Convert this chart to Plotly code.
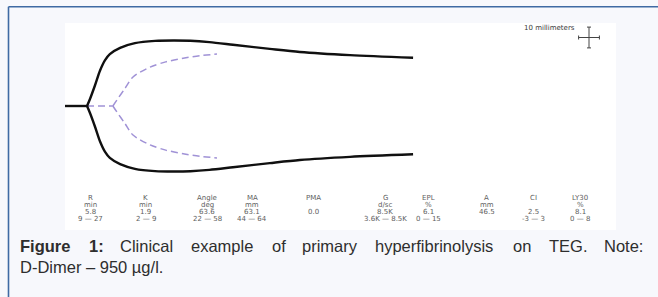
import plotly.graph_objects as go

W, H = 658, 297

# Patient trace (black): time in minutes vs amplitude in mm
t_pat = [0, 5.8, 6.6, 7.9, 9.2, 10.5, 11.8, 14.5, 18.4, 23.7, 28.5, 33.0, 38.0, 44.2, 53.9, 61.8, 75.0, 91.6]
amp_pat = [0, 0, 7, 20, 34, 44, 50, 56, 60.5, 62.7, 63.1, 62.8, 61.5, 59, 55, 52, 49, 46.5]

# Normal reference trace (purple dashed)
t_norm = [0, 12.6, 13.7, 15.8, 17.9, 22.4, 26.5, 31.1, 35.5, 40.0]
amp_norm = [0, 0, 6, 17, 28, 37.5, 42.5, 46, 48.5, 50]
R_NORM = 12.6  # split time of normal trace
R_PAT = 5.8    # split time of patient trace

params = ["R", "K", "Angle", "MA", "PMA", "G", "EPL", "A", "CI", "LY30"]
units = ["min", "min", "deg", "mm", "", "d/sc", "%", "mm", "", "%"]
values = ["5.8", "1.9", "63.6", "63.1", "0.0", "8.5K", "6.1", "46.5", "2.5", "8.1"]
ranges = ["9 \u2014 27", "2 \u2014 9", "22 \u2014 58", "44 \u2014 64", "", "3.6K \u2014 8.5K",
          "0 \u2014 15", "", "-3 \u2014 3", "0 \u2014 8"]

caption1 = ["<b>Figure</b>", "<b>1:</b>", "Clinical", "example", "of", "primary",
            "hyperfibrinolysis", "on", "TEG.", "Note:"]
caption2 = "D-Dimer \u2013 950 \u00b5g/l."

# ---- layout helpers (pixel -> paper) ----
def px(x):
    return x / W

def py(y):
    return 1 - y / H

X0, PXMIN = 65, 3.8      # start of trace in px, px per minute
Y0, PXMM = 106, 2.076    # centre line in px, px per mm

fig = go.Figure()

def split(ts, amps, r):
    base_t = [t for t in ts if t <= r]
    base_a = [a for t, a in zip(ts, amps) if t <= r]
    curve_t = [t for t in ts if t >= r]
    curve_a = [a / 2 for t, a in zip(ts, amps) if t >= r]
    return base_t, base_a, curve_t, curve_a

bt, ba, ct, ca = split(t_norm, amp_norm, R_NORM)
purple = dict(color="#a092d6", width=1.5, dash="7px,4px")
fig.add_trace(go.Scatter(x=bt, y=ba, mode="lines", line=purple, hoverinfo="skip"))
for sgn in (1, -1):
    fig.add_trace(go.Scatter(x=ct, y=[sgn * v for v in ca], mode="lines",
                             line=dict(**purple, shape="spline", smoothing=0.8),
                             hoverinfo="skip"))

bt, ba, ct, ca = split(t_pat, amp_pat, R_PAT)
black = dict(color="#101010", width=2.4)
fig.add_trace(go.Scatter(x=bt, y=ba, mode="lines", line=black, hoverinfo="skip"))
for sgn in (1, -1):
    fig.add_trace(go.Scatter(x=ct, y=[sgn * v for v in ca], mode="lines",
                             line=dict(**black, shape="spline", smoothing=0.8),
                             hoverinfo="skip"))

xr = [-X0 / PXMIN, (W - X0) / PXMIN]
yr = [-(H - Y0) / PXMM, Y0 / PXMM]

fig.update_xaxes(range=xr, visible=False, domain=[0, 1], fixedrange=True)
fig.update_yaxes(range=yr, visible=False, domain=[0, 1], fixedrange=True)

shapes = []
# white image area
shapes.append(dict(type="rect", xref="paper", yref="paper", layer="below",
                   x0=px(65), x1=px(616), y0=py(230), y1=py(23),
                   fillcolor="#ffffff", line=dict(width=0)))
# blue frame (top and left)
shapes.append(dict(type="line", xref="paper", yref="paper", x0=px(8.5), x1=px(W + 2),
                   y0=py(6.8), y1=py(6.8), line=dict(color="#3f6aa3", width=1.6)))
shapes.append(dict(type="line", xref="paper", yref="paper", x0=px(8.5), x1=px(8.5),
                   y0=py(6.8), y1=py(H + 2), line=dict(color="#3f6aa3", width=1.6)))
# 10 mm scale cross
cx, cy, hl = 589, 37.5, 10.4
cross = [
    (cx - hl, cy, cx + hl, cy), (cx, cy - hl, cx, cy + hl),
    (cx - hl, cy - 2, cx - hl, cy + 2), (cx + hl, cy - 2, cx + hl, cy + 2),
    (cx - 2, cy - hl, cx + 2, cy - hl), (cx - 2, cy + hl, cx + 2, cy + hl),
]
for a, b, c, d in cross:
    shapes.append(dict(type="line", xref="paper", yref="paper", x0=px(a), x1=px(c),
                       y0=py(b), y1=py(d), line=dict(color="#444444", width=1)))

ann = []
ann.append(dict(text="10 millimeters", x=px(577), y=py(28.5), xref="paper", yref="paper",
                xanchor="right", yanchor="middle", showarrow=False,
                font=dict(family="DejaVu Sans", size=7, color="#3a3a3a")))

col_x = [90, 145.5, 207, 252, 313, 385, 428, 487, 533, 580]
rows_y = [197.5, 204.5, 211.5, 218.5]
lab_font = dict(family="DejaVu Sans", size=7, color="#5e5e5e")
for i, cxp in enumerate(col_x):
    for txt, ry in zip([params[i], units[i], values[i], ranges[i]], rows_y):
        if txt:
            ann.append(dict(text=txt, x=px(cxp), y=py(ry), xref="paper", yref="paper",
                            xanchor="center", yanchor="middle", showarrow=False, font=lab_font))

cap_font = dict(family="Liberation Sans, Arial", size=16.5, color="#2e2e2e")
word_x = [18, 86.5, 118, 189, 269.5, 300, 373, 511, 546.5, 602]
for w, wx in zip(caption1, word_x):
    ann.append(dict(text=w, x=px(wx), y=py(246), xref="paper", yref="paper",
                    xanchor="left", yanchor="middle", showarrow=False, font=cap_font))
ann.append(dict(text=caption2, x=px(18), y=py(267), xref="paper", yref="paper",
                xanchor="left", yanchor="middle", showarrow=False, font=cap_font))

fig.update_layout(width=W, height=H, margin=dict(l=0, r=0, t=0, b=0),
                  paper_bgcolor="#f7f8fc", plot_bgcolor="rgba(0,0,0,0)",
                  shapes=shapes, annotations=ann, showlegend=False)

fig.write_html("out.html", config={"displayModeBar": False},
               post_script="document.body.style.margin='0';document.body.style.padding='0';")
